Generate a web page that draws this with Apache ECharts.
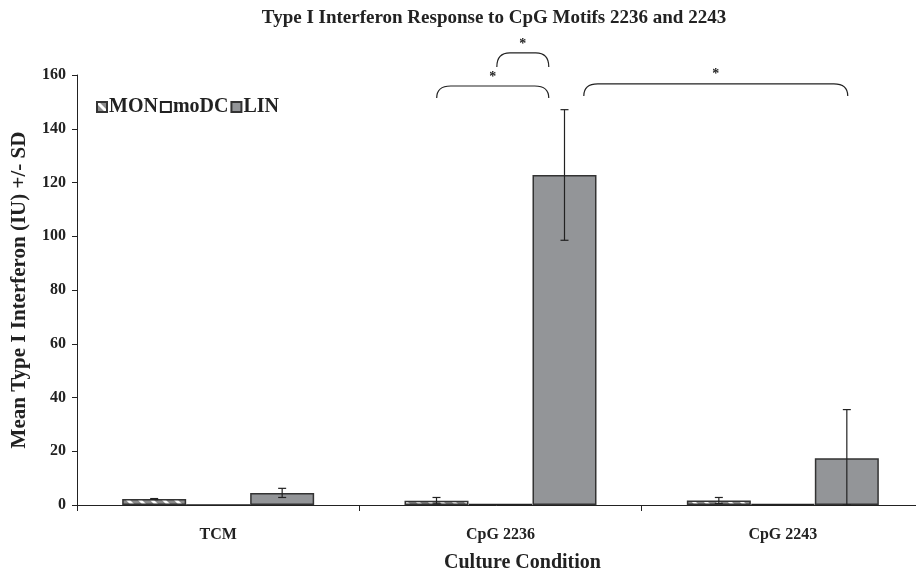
<!DOCTYPE html>
<html>
<head>
<meta charset="utf-8">
<script src="https://cdn.jsdelivr.net/npm/echarts@6/dist/echarts.min.js"></script>
<style>html,body{margin:0;padding:0;background:#fff}#c{width:916px;height:571px}</style>
</head>
<body>
<div id="c"></div>
<script>
const categories = ['TCM', 'CpG 2236', 'CpG 2243'];
const seriesNames = ['MON', 'moDC', 'LIN'];
const monValues = [2.2, 1.6, 1.7];
const monSD = [0.2, 1.2, 1.1];
const modcValues = [0, 0.3, 0.3];
const modcSD = [0, 0, 0];
const linValues = [4.5, 122.8, 17.4];
const linSD = [1.7, 24.3, 18.1];
const yTicks = [0, 20, 40, 60, 80, 100, 120, 140, 160];
// significance brackets: [startCat, startOffset, endCat, endOffset, baseValue, topValue]
const brackets = [
  [1, -0.226, 1, 0.171, 151.4, 155.9],
  [1, -0.013, 1, 0.171, 163.0, 168.2],
  [1, 0.295, 2, 0.230, 152.2, 156.7]
];

const FONT = '"Liberation Serif", "Times New Roman", serif';
const GAP = 0.32;

function makePattern() {
  const c = document.createElement('canvas');
  c.width = 12; c.height = 12;
  const g = c.getContext('2d');
  g.fillStyle = '#8c8c8c';
  g.fillRect(0, 0, 12, 12);
  g.strokeStyle = '#ffffff';
  g.lineWidth = 3;
  g.beginPath();
  g.moveTo(-2, -2); g.lineTo(14, 14);
  g.moveTo(-14, -2); g.lineTo(2, 14);
  g.moveTo(10, -2); g.lineTo(26, 14);
  g.stroke();
  return c;
}
const pattern = { image: makePattern(), repeat: 'repeat' };

const chart = echarts.init(document.getElementById('c'), null, { renderer: 'canvas' });

const valuesList = [monValues, modcValues, linValues];
const sdList = [monSD, modcSD, linSD];
const errData = [];
valuesList.forEach((vals, s) => {
  vals.forEach((v, i) => {
    if (sdList[s][i] > 0) errData.push([i, v, sdList[s][i], s]);
  });
});

const bracketData = brackets.map(b => b.slice());

function renderErr(params, api) {
  const i = api.value(0), v = api.value(1), sd = api.value(2), s = api.value(3);
  const band = api.size([1, 0])[0];
  const bw = band * (1 - GAP) / 3;
  const c = api.coord([i, v]);
  const x = c[0] + (s - 1) * bw;
  const yTop = api.coord([i, v + sd])[1];
  const yBot = api.coord([i, Math.max(0, v - sd)])[1];
  const cap = 4;
  const st = { stroke: '#222', lineWidth: 1.2, fill: null };
  return {
    type: 'group',
    children: [
      { type: 'line', shape: { x1: x, y1: yTop, x2: x, y2: yBot }, style: st },
      { type: 'line', shape: { x1: x - cap, y1: yTop, x2: x + cap, y2: yTop }, style: st },
      { type: 'line', shape: { x1: x - cap, y1: yBot, x2: x + cap, y2: yBot }, style: st }
    ]
  };
}

function renderBracket(params, api) {
  const band = api.size([1, 0])[0];
  const c1 = api.coord([api.value(0), api.value(4)]);
  const c2 = api.coord([api.value(2), api.value(5)]);
  const x1 = c1[0] + api.value(1) * band;
  const x2 = api.coord([api.value(2), 0])[0] + api.value(3) * band;
  const yb = c1[1];
  const yt = c2[1];
  const r = Math.min(14, (x2 - x1) / 4);
  const path = 'M' + x1 + ' ' + yb + ' Q' + x1 + ' ' + yt + ' ' + (x1 + r) + ' ' + yt +
    ' L' + (x2 - r) + ' ' + yt + ' Q' + x2 + ' ' + yt + ' ' + x2 + ' ' + yb;
  return {
    type: 'group',
    children: [
      { type: 'path', shape: { pathData: path }, style: { stroke: '#222', lineWidth: 1.2, fill: null } },
      { type: 'text', x: (x1 + x2) / 2, y: yt - 2,
        style: { text: '*', fill: '#222', font: 'bold 14px ' + FONT, align: 'center', verticalAlign: 'bottom' } }
    ]
  };
}

const barBase = {
  type: 'bar',
  barGap: '0%',
  barCategoryGap: (GAP * 100) + '%',
  emphasis: { disabled: true }
};

chart.setOption({
  animation: false,
  backgroundColor: '#fff',
  title: {
    text: 'Type I Interferon Response to CpG Motifs 2236 and 2243',
    left: 489, top: 4, textAlign: 'center',
    textStyle: { fontFamily: FONT, fontWeight: 'bold', fontSize: 19, color: '#222' }
  },
  legend: {
    left: 91, top: 92,
    itemWidth: 10, itemHeight: 10, itemGap: 2,
    icon: 'rect',
    textStyle: { fontFamily: FONT, fontWeight: 'bold', fontSize: 20, color: '#222', padding: [0, 0, 0, -3] },
    data: seriesNames
  },
  grid: { left: 77, top: 75, width: 847, bottom: 66, containLabel: false, outerBoundsMode: 'none' },
  xAxis: {
    type: 'category',
    data: categories,
    name: 'Culture Condition',
    nameLocation: 'middle',
    nameGap: 48,
    nameTextStyle: { fontFamily: FONT, fontWeight: 'bold', fontSize: 20, color: '#222', padding: [0, 0, 0, 44] },
    axisLine: { lineStyle: { color: '#222', width: 1 } },
    axisTick: { show: true, length: 6, lineStyle: { color: '#222' } },
    axisLabel: { fontFamily: FONT, fontWeight: 'bold', fontSize: 16, color: '#222', margin: 22 }
  },
  yAxis: {
    type: 'value',
    min: 0, max: 160, interval: 20,
    name: 'Mean Type I Interferon (IU) +/- SD',
    nameLocation: 'middle',
    nameGap: 47,
    nameTextStyle: { fontFamily: FONT, fontWeight: 'bold', fontSize: 21, color: '#222' },
    axisLine: { show: true, lineStyle: { color: '#222', width: 1 } },
    axisTick: { show: true, length: 5, lineStyle: { color: '#222' } },
    splitLine: { show: false },
    axisLabel: {
      fontFamily: FONT, fontWeight: 'bold', fontSize: 16, color: '#222', margin: 11,
      formatter: v => (yTicks.indexOf(v) >= 0 ? String(v) : '')
    }
  },
  series: [
    Object.assign({}, barBase, {
      name: 'MON', data: monValues,
      itemStyle: { color: pattern, borderColor: '#333', borderWidth: 1.5 }
    }),
    Object.assign({}, barBase, {
      name: 'moDC', data: modcValues,
      itemStyle: { color: '#ffffff', borderColor: '#222', borderWidth: 1.5 }
    }),
    Object.assign({}, barBase, {
      name: 'LIN', data: linValues,
      itemStyle: { color: '#939598', borderColor: '#333', borderWidth: 1.5 }
    }),
    {
      type: 'custom', name: 'err', data: errData, renderItem: renderErr,
      z: 5, silent: true, clip: false, encode: { x: 0, y: 1 }
    },
    {
      type: 'custom', name: 'brackets', data: bracketData, renderItem: renderBracket,
      z: 5, silent: true, clip: false, encode: { x: 0, y: 4 }
    }
  ]
});
</script>
</body>
</html>
